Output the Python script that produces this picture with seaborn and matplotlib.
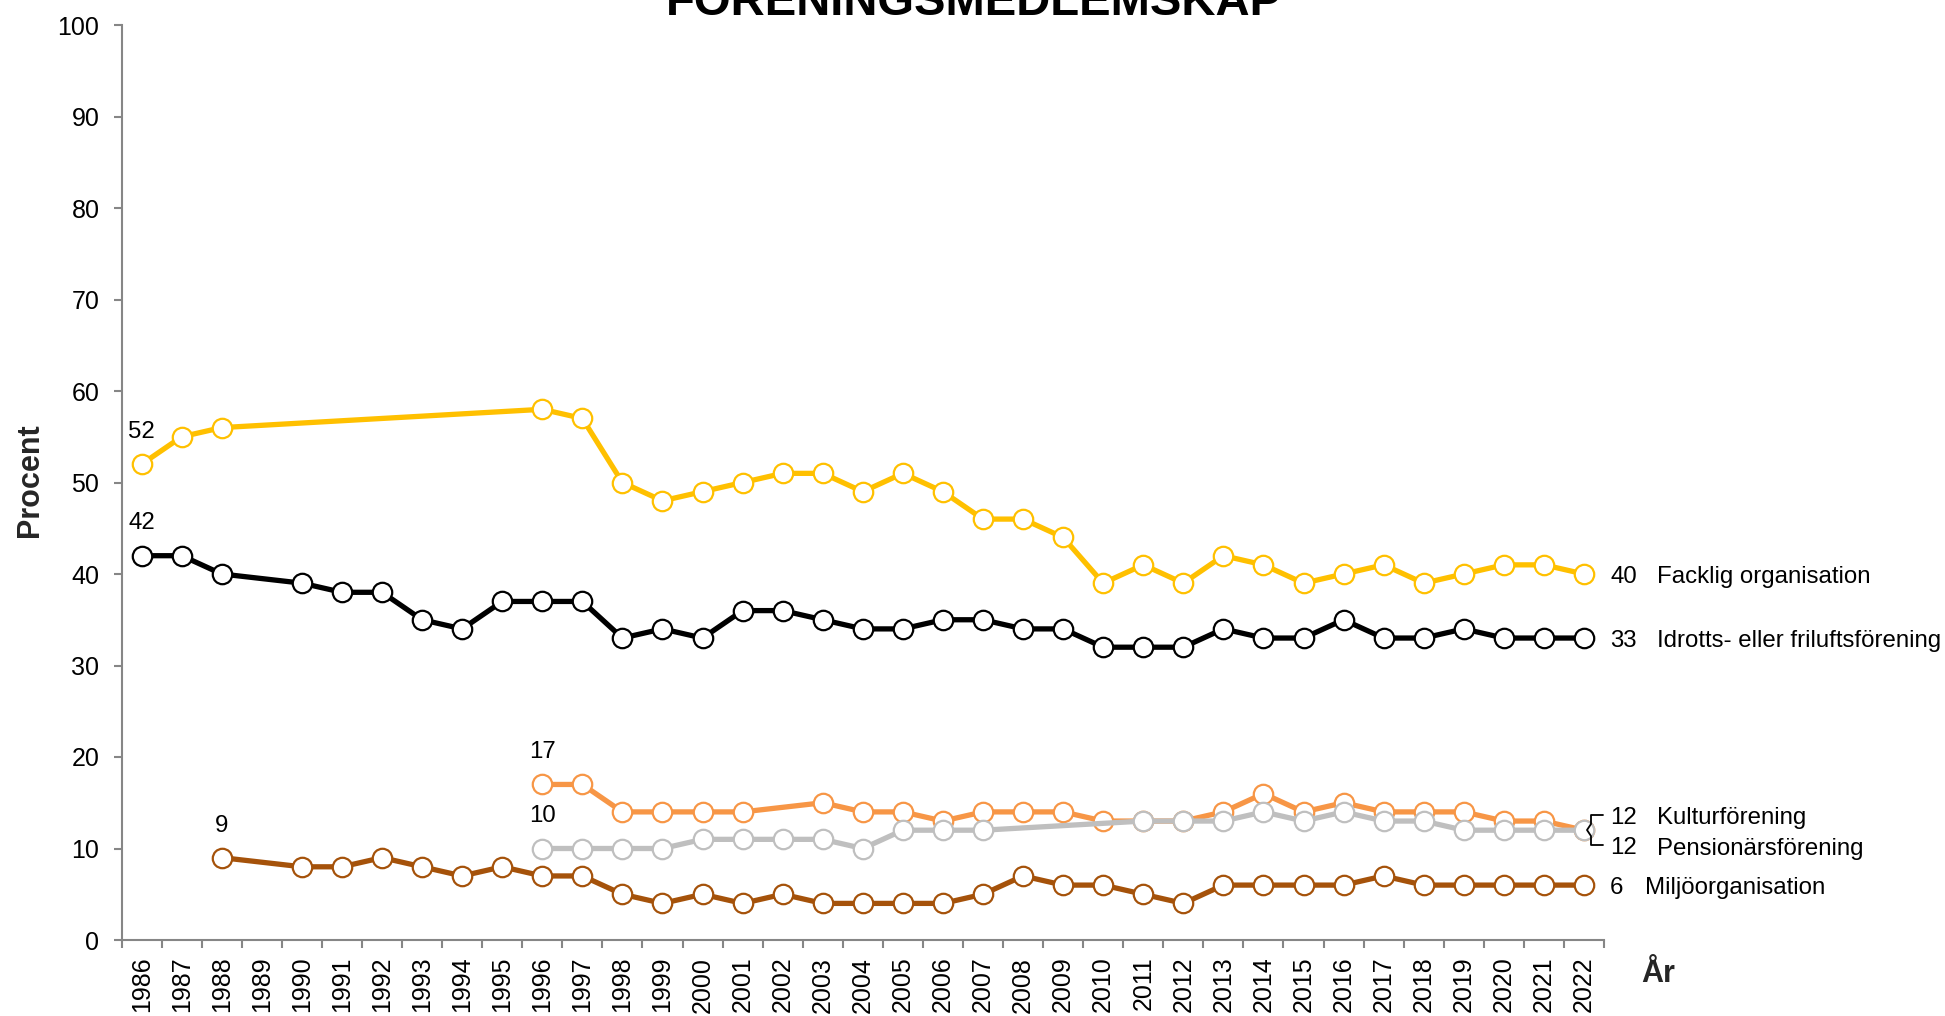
import numpy as np
import pandas as pd
import matplotlib
matplotlib.use("Agg")
import matplotlib.pyplot as plt
import seaborn as sns
from matplotlib.lines import Line2D

nan = np.nan
years = [str(y) for y in range(1986, 2023)]

facklig = [52, 55, 56, nan, nan, nan, nan, nan, nan, nan,
           58, 57, 50, 48, 49, 50, 51, 51, 49, 51, 49, 46, 46, 44, 39, 41, 39,
           42, 41, 39, 40, 41, 39, 40, 41, 41, 40]
idrott = [42, 42, 40, nan, 39, 38, 38, 35, 34, 37,
          37, 37, 33, 34, 33, 36, 36, 35, 34, 34, 35, 35, 34, 34, 32, 32, 32,
          34, 33, 33, 35, 33, 33, 34, 33, 33, 33]
miljo = [nan, nan, 9, nan, 8, 8, 9, 8, 7, 8,
         7, 7, 5, 4, 5, 4, 5, 4, 4, 4, 4, 5, 7, 6, 6, 5, 4,
         6, 6, 6, 6, 7, 6, 6, 6, 6, 6]
kultur = [nan] * 10 + [17, 17, 14, 14, 14, 14, nan, 15, 14, 14, 13, 14, 14, 14, 13, 13, 13,
                       14, 16, 14, 15, 14, 14, 14, 13, 13, 12]
pension = [nan] * 10 + [10, 10, 10, 10, 11, 11, 11, 11, 10, 12, 12, 12, nan, nan, nan, 13, 13,
                        13, 14, 13, 14, 13, 13, 12, 12, 12, 12]

series_names = ["Facklig organisation", "Idrotts- eller friluftsförening",
                "Miljöorganisation", "Kulturförening", "Pensionärsförening"]
series_values = [facklig, idrott, miljo, kultur, pension]
colors = ["#FFC000", "#000000", "#A5520A", "#F79646", "#BFBFBF"]

title = "FÖRENINGSMEDLEMSKAP"

sns.set_theme(style="white")
plt.rcParams["font.family"] = ["Liberation Sans", "DejaVu Sans"]

W, H = 1945, 1016
fig = plt.figure(figsize=(W / 100, H / 100), dpi=100)
ax = fig.add_axes([121.6 / W, (H - 940) / H, (1604 - 121.6) / W, (940 - 25) / H])

for name, vals, col in zip(series_names, series_values, colors):
    df = pd.DataFrame({"x": np.arange(len(years)), "y": vals}).dropna()
    sns.lineplot(data=df, x="x", y="y", ax=ax, color=col, linewidth=3.8,
                 marker="o", markersize=14, markerfacecolor="white",
                 markeredgecolor=col, markeredgewidth=1.6, legend=False,
                 errorbar=None, sort=True)

ax.set_xlim(-0.5, len(years) - 0.5)
ax.set_ylim(0, 100)
ax.set_yticks(range(0, 101, 10))
ax.set_xticks(np.arange(len(years)))
ax.set_xticklabels(years, rotation=90)
ax.set_xticks(np.arange(len(years) + 1) - 0.5, minor=True)
ax.set_xlabel("")
ax.set_ylabel("")

axis_col = "#868686"
for s in ["top", "right"]:
    ax.spines[s].set_visible(False)
for s in ["left", "bottom"]:
    ax.spines[s].set_color(axis_col)
    ax.spines[s].set_linewidth(1.5)
ax.tick_params(axis="y", which="major", left=True, length=6, width=1.5,
               color=axis_col, labelsize=18, pad=10, labelcolor="black")
ax.tick_params(axis="x", which="major", bottom=True, length=0, labelsize=18,
               pad=12, labelcolor="black")
ax.tick_params(axis="x", which="minor", bottom=True, length=6, width=1.5,
               color=axis_col)
ax.grid(False)

# start-value annotations
fs = 17.3
def first_idx(vals):
    return next(i for i, v in enumerate(vals) if not np.isnan(v))

for vals, off in [(facklig, 3.5), (idrott, 3.6), (miljo, 3.5), (kultur, 3.6), (pension, 3.6)]:
    i = first_idx(vals)
    ax.text(i, vals[i] + off, f"{vals[i]:g}", ha="center", va="center",
            fontsize=fs, color="black", clip_on=False)

# end labels
last = len(years) - 1
end_pos = [39.7, 32.7, 5.7, 13.35, 10.0]
name_x = [37.83, 37.83, 37.53, 37.83, 37.83]
for name, vals, ypos, nx in zip(series_names, series_values, end_pos, name_x):
    ax.text(36.65, ypos, f"{vals[last]:g}", ha="left", va="center",
            fontsize=fs, color="black", clip_on=False)
    ax.text(nx, ypos, name, ha="left", va="center", fontsize=fs,
            color="black", clip_on=False)

# bracket joining Kultur / Pension labels (figure pixels)
bx = [1603, 1591, 1591, 1587, 1591, 1591, 1603]
by = [815, 815, 824, 830, 836, 845, 845]
fig.add_artist(Line2D([x / W for x in bx], [(H - y) / H for y in by],
                      color="black", linewidth=1.3))

fig.text(974 / W, 1 - 15 / H, title, ha="center", va="baseline",
         fontsize=34, fontweight="bold", color="black")
fig.text(30 / W, 1 - 480 / H, "Procent", rotation=90, ha="center",
         va="center", fontsize=22, fontweight="bold")
fig.text(1658 / W, 1 - 974 / H, "År", ha="center", va="center",
         fontsize=22, fontweight="bold")

fig.savefig("out.png", dpi=100, facecolor="white")
